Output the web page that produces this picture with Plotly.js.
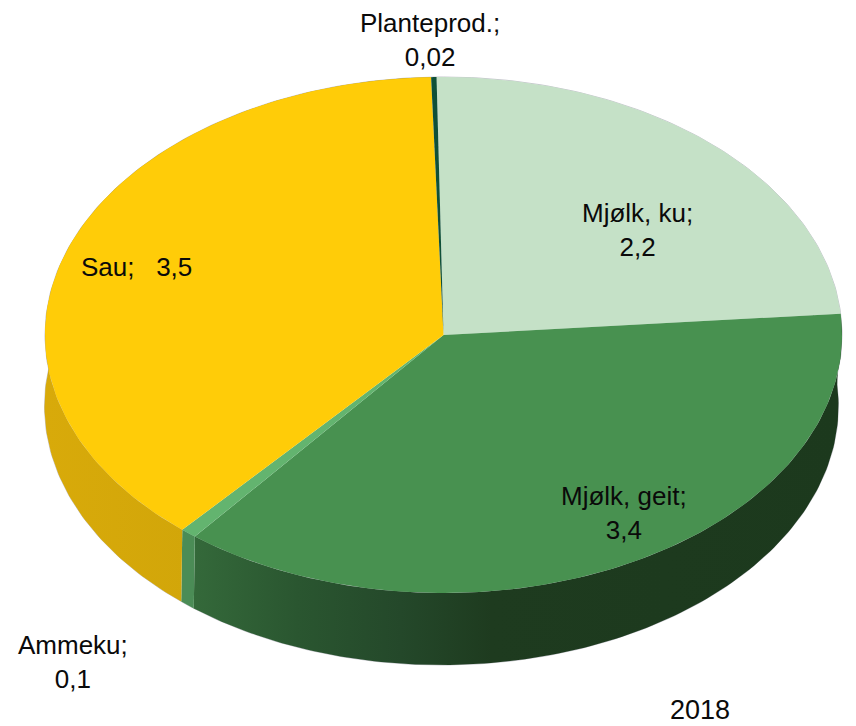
<!DOCTYPE html>
<html>
<head>
<meta charset="utf-8">
<script src="https://cdn.plot.ly/plotly-3.0.1.min.js"></script>
<style>html,body{margin:0;padding:0;background:#fff}#chart{width:856px;height:726px}</style>
</head>
<body>
<div id="chart"></div>
<script>
// Data, clockwise from the top of the pie.
// The slice sizes are read from the picture; Ammeku's slice is drawn narrower
// than 0.1 exactly, so its size is estimated while its label stays "0,1".
const categories = ["Mjølk, ku", "Mjølk, geit", "Ammeku", "Sau", "Planteprod."];
const values = [2.2, 3.4, 0.06, 3.5, 0.02];
const valueLabels = ["2,2", "3,4", "0,1", "3,5", "0,02"];
const yearLabel = "2018";

// Styling
const topColors = ["#C5E1C7", "#489150", "#63B46F", "#FFCC08", "#0F5038"];
const wallScales = [
  null,
  [[0, "#34693A"], [0.16, "#2A5630"], [0.32, "#24482A"], [0.46, "#1E3B1F"], [1, "#1C391D"]],
  [[0, "#4B8C56"], [1, "#4B8C56"]],
  [[0, "#D8AA0A"], [0.55, "#CFA409"], [1, "#B59108"]],
  null
];
const labelSeparators = [";<br>", ";<br>", ";<br>", ";   ", ";<br>"];
const labelX = [637, 624, 73, 136, 430];
const labelY = [230, 513, 662, 267, 40];
const edgeColor = "rgba(110,110,130,0.4)";

// Geometry of the tilted disc, in page pixels
const topDisc = {cx: 443.5, cy: 335, a: 398.5, b: 258};
const bottomDisc = {cx: 441.5, cy: 406, a: 397, b: 259};
const startAngle = -1.0;

const total = values.reduce((s, v) => s + v, 0);
const point = (d, deg) => {
  const r = deg * Math.PI / 180;
  return [d.cx + d.a * Math.sin(r), d.cy - d.b * Math.cos(r)];
};
const arc = (d, from, to) => {
  const n = Math.max(2, Math.ceil(Math.abs(to - from)));
  const out = [];
  for (let i = 0; i <= n; i++) out.push(point(d, from + (to - from) * i / n));
  return out;
};

const spans = [];
let acc = startAngle;
values.forEach(v => { const next = acc + v / total * 360; spans.push([acc, next]); acc = next; });

const traces = [];
// Faint edge under everything, visible only along the silhouette
[topDisc, bottomDisc].forEach(d => {
  const pts = arc(d, 0, 360);
  traces.push({
    type: "scatter", mode: "lines", x: pts.map(p => p[0]), y: pts.map(p => p[1]),
    line: {width: 1, color: edgeColor}, hoverinfo: "skip", showlegend: false
  });
});
// Walls next, so the top surface sits over them
spans.forEach((s, i) => {
  if (!wallScales[i]) return;
  const pts = arc(topDisc, s[0], s[1]).concat(arc(bottomDisc, s[1], s[0]));
  pts.push(pts[0]);
  traces.push({
    type: "scatter", mode: "lines", name: categories[i] + " (side)",
    x: pts.map(p => p[0]), y: pts.map(p => p[1]),
    fill: "toself", line: {width: 0}, hoverinfo: "skip", showlegend: false,
    fillcolor: wallScales[i][0][1],
    fillgradient: {type: "horizontal", colorscale: wallScales[i]}
  });
});
// Top surface
spans.forEach((s, i) => {
  const pts = [[topDisc.cx, topDisc.cy]].concat(arc(topDisc, s[0], s[1]));
  pts.push(pts[0]);
  traces.push({
    type: "scatter", mode: "lines", name: categories[i],
    x: pts.map(p => p[0]), y: pts.map(p => p[1]),
    fill: "toself", fillcolor: topColors[i], line: {width: 0},
    hoverinfo: "text", text: categories[i] + ": " + valueLabels[i], showlegend: false
  });
});

const labelFont = {family: "Liberation Sans, Arial, sans-serif", size: 26, color: "#0a0a0a"};
const annotations = categories.map((c, i) => ({
  x: labelX[i], y: labelY[i], xref: "x", yref: "y",
  text: c + labelSeparators[i] + valueLabels[i],
  showarrow: false, align: "center", xanchor: "center", yanchor: "middle", font: labelFont
}));
annotations.push({x: 700, y: 710, xref: "x", yref: "y", text: yearLabel, showarrow: false,
  xanchor: "center", yanchor: "middle", font: Object.assign({}, labelFont, {size: 27})});

Plotly.newPlot("chart", traces, {
  width: 856, height: 726,
  margin: {l: 0, r: 0, t: 0, b: 0},
  paper_bgcolor: "#fff", plot_bgcolor: "#fff",
  showlegend: false,
  xaxis: {range: [0, 856], visible: false, fixedrange: true},
  yaxis: {range: [726, 0], visible: false, fixedrange: true},
  annotations: annotations
}, {displayModeBar: false});
</script>
</body>
</html>
